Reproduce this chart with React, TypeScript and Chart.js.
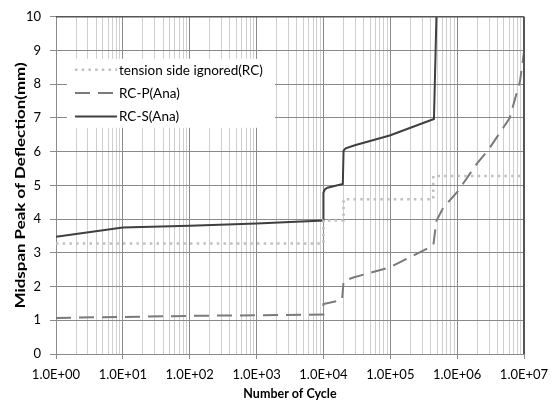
import { useEffect, useRef } from "react";
import { Chart, registerables } from "chart.js";

Chart.register(...registerables);

// ---- data ----
const decades = [1, 10, 100, 1000, 10000, 100000, 1000000, 10000000];
const yTicks = [0, 1, 2, 3, 4, 5, 6, 7, 8, 9, 10];

const seriesNames = ["tension side ignored(RC)", "RC-P(Ana)", "RC-S(Ana)"];

const cyclesT = [1, 10000, 10000, 20000, 20000, 440000, 440000, 10000000];
const deflT = [3.28, 3.28, 3.96, 3.96, 4.59, 4.59, 5.28, 5.28];

const cyclesP = [1, 10, 100, 1000, 10000, 10000, 19000, 20000, 28000, 98000, 440000, 490000, 620000, 1000000, 2000000, 2900000, 4600000, 6100000, 8700000, 10000000];
const deflP = [1.07, 1.1, 1.13, 1.15, 1.17, 1.48, 1.6, 2.16, 2.27, 2.57, 3.22, 3.95, 4.34, 4.8, 5.66, 6.04, 6.63, 7.0, 8.08, 8.95];

const cyclesS = [1, 10, 100, 1000, 10000, 10000, 10500, 11500, 19500, 20000, 21500, 29500, 98000, 450000, 490000];
const deflS = [3.48, 3.75, 3.8, 3.87, 3.96, 4.78, 4.88, 4.93, 5.04, 6.03, 6.1, 6.19, 6.48, 6.97, 10];

const toPts = (xs: number[], ys: number[]) => xs.map((x, i) => ({ x, y: ys[i] }));

const isDecade = (v: number) => {
  const l = Math.log10(v);
  return Math.abs(l - Math.round(l)) < 1e-9;
};
const fmtExp = (v: number) => {
  const e = Math.round(Math.log10(v));
  const m = v / Math.pow(10, e);
  const sign = e < 0 ? "-" : "+";
  const ee = String(Math.abs(e)).padStart(2, "0");
  return `${m.toFixed(1)}E${sign}${ee}`;
};

const xGridValues: number[] = [];
for (let d = 0; d < decades.length - 1; d++) {
  for (let k = 1; k <= 9; k++) xGridValues.push(k * decades[d]);
}
xGridValues.push(decades[decades.length - 1]);

const FONT = "Lato, 'Open Sans', sans-serif";
const MAJOR = "#8a8a8a";
const MINOR = "#cfcfcf";

const frameAndLegend = {
  id: "frameAndLegend",
  afterDatasetsDraw(chart: any) {
    const { ctx, chartArea: a } = chart;
    ctx.save();
    // top / right frame
    ctx.strokeStyle = "#555555";
    ctx.lineWidth = 1.5;
    ctx.beginPath();
    ctx.moveTo(a.left, a.top);
    ctx.lineTo(a.right, a.top);
    ctx.stroke();
    ctx.lineWidth = 2;
    ctx.beginPath();
    ctx.moveTo(a.right, a.top);
    ctx.lineTo(a.right, a.bottom);
    ctx.stroke();

    // legend
    const bx = a.left + 11;
    const by = a.top + 42;
    ctx.fillStyle = "#ffffff";
    ctx.fillRect(bx, by, 208, 69);
    const ds = chart.data.datasets;
    ds.forEach((d: any, i: number) => {
      const y = by + 11 + i * 23.3;
      ctx.save();
      ctx.strokeStyle = d.borderColor;
      ctx.lineWidth = d.borderWidth;
      ctx.setLineDash(d.borderDash || []);
      ctx.beginPath();
      ctx.moveTo(bx + 8, y);
      ctx.lineTo(bx + 50, y);
      ctx.stroke();
      ctx.restore();
      ctx.fillStyle = "#000000";
      ctx.font = `13.5px ${FONT}`;
      ctx.textBaseline = "middle";
      ctx.textAlign = "left";
      ctx.fillText(d.label, bx + 52, y + 0.5);
    });

    ctx.restore();
  },
  afterDraw(chart: any) {
    const { ctx, chartArea: a } = chart;
    ctx.save();
    ctx.translate(21, (a.top + a.bottom) / 2);
    ctx.rotate(-Math.PI / 2);
    ctx.scale(1.3, 1);
    ctx.font = `bold 13px ${FONT}`;
    ctx.fillStyle = "#000000";
    ctx.textAlign = "center";
    ctx.textBaseline = "middle";
    ctx.fillText("Midspan Peak of Deflection(mm)", 0, 0);
    ctx.restore();
  },
};

export default function App() {
  const ref = useRef<HTMLCanvasElement | null>(null);
  useEffect(() => {
    if (!ref.current) return;
    const chart = new Chart(ref.current, {
      type: "line",
      data: {
        datasets: [
          {
            label: seriesNames[0],
            data: toPts(cyclesT, deflT),
            borderColor: "#c0c0c0",
            borderWidth: 2.5,
            borderDash: [2.5, 4.2],
            pointRadius: 0,
            tension: 0,
            fill: false,
          },
          {
            label: seriesNames[1],
            data: toPts(cyclesP, deflP),
            borderColor: "#7a7a7a",
            borderWidth: 2,
            borderDash: [15, 8],
            pointRadius: 0,
            tension: 0,
            fill: false,
          },
          {
            label: seriesNames[2],
            data: toPts(cyclesS, deflS),
            borderColor: "#3f3f3f",
            borderWidth: 2,
            pointRadius: 0,
            tension: 0,
            fill: false,
          },
        ],
      },
      plugins: [frameAndLegend],
      options: {
        responsive: false,
        animation: false,
        events: [],
        layout: { padding: { left: 0, top: 11, right: 34, bottom: 0 } },
        plugins: {
          legend: { display: false },
          tooltip: { enabled: false },
        },
        scales: {
          x: {
            type: "logarithmic",
            min: decades[0],
            max: decades[decades.length - 1],
            afterBuildTicks: (scale: any) => {
              scale.ticks = xGridValues.map((v) => ({ value: v, major: isDecade(v) }));
            },
            afterFit: (scale: any) => {
              scale.height = 53;
            },
            ticks: {
              autoSkip: false,
              maxRotation: 0,
              minRotation: 0,
              padding: 8,
              color: "#000000",
              font: { family: FONT, size: 13 },
              callback: (v: any) => (isDecade(Number(v)) ? fmtExp(Number(v)) : ""),
            },
            grid: {
              color: (c: any) => (c.tick && isDecade(c.tick.value) ? MAJOR : MINOR),
              tickColor: (c: any) => (c.tick && isDecade(c.tick.value) ? MAJOR : "rgba(0,0,0,0)"),
              tickLength: 5,
              lineWidth: 1,
            },
            border: { color: MAJOR, width: 1 },
            title: {
              display: true,
              text: "Number of Cycle",
              color: "#000000",
              font: { family: FONT, size: 12.5, weight: "bold" },
              padding: { top: 0, bottom: 6 },
            },
          },
          y: {
            type: "linear",
            min: yTicks[0],
            max: yTicks[yTicks.length - 1],
            afterBuildTicks: (scale: any) => {
              scale.ticks = yTicks.map((v) => ({ value: v }));
            },
            afterFit: (scale: any) => {
              scale.width = 56;
            },
            ticks: {
              padding: 9,
              color: "#000000",
              font: { family: FONT, size: 13 },
            },
            grid: {
              color: MAJOR,
              tickColor: MAJOR,
              tickLength: 6,
              lineWidth: 1,
            },
            border: { color: MAJOR, width: 1 },
            title: { display: false },
          },
        },
      },
    } as any);
    return () => chart.destroy();
  }, []);
  return (
    <div style={{ position: "absolute", left: 0, top: 0, width: 558, height: 407, background: "#ffffff" }}>
      <canvas ref={ref} width={558} height={407} style={{ display: "block" }} />
    </div>
  );
}
